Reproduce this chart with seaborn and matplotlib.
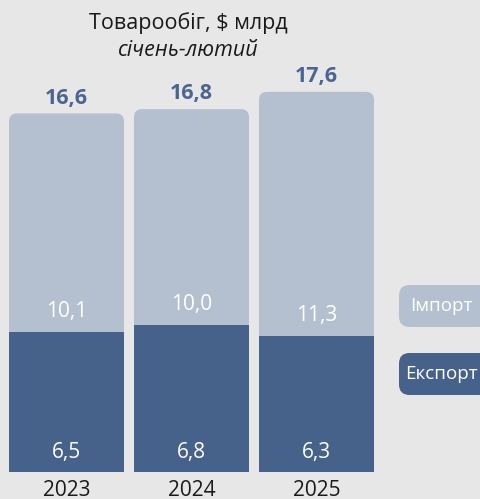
import matplotlib
matplotlib.use("Agg")
import matplotlib.pyplot as plt
from matplotlib.patches import FancyBboxPatch
import seaborn as sns
import pandas as pd

# Data (January-February, $ bn)
years = ["2023", "2024", "2025"]
export_vals = [6.5, 6.8, 6.3]
import_vals = [10.1, 10.0, 11.3]
total_vals = [16.6, 16.8, 17.6]

export_color = "#46618a"
import_color = "#b4bfcf"
total_color = "#4a6591"
bg_color = "#e7e7e7"

sns.set_theme(style="white")
plt.rcParams["font.family"] = ["Open Sans", "DejaVu Sans"]

df = pd.DataFrame({"year": years, "export": export_vals,
                   "import": import_vals, "total": total_vals})

fig = plt.figure(figsize=(4.8, 4.99), dpi=100, facecolor=bg_color)
ax = fig.add_axes([0, 27 / 499, 1, 432 / 499])
ax.set_facecolor("none")

sns.barplot(data=df, x="year", y="total", color=import_color, width=0.92,
            saturation=1, linewidth=0, ax=ax)
sns.barplot(data=df, x="year", y="export", color=export_color, width=0.92,
            saturation=1, linewidth=0, ax=ax)
ax.set_xlim(-0.532, -0.532 + 480 / 125)
ax.set_ylim(0, 20)

# round the top corners of the total (import) bars
n = len(years)
px_x = 125
px_y = 432 / 20
aspect = px_x / px_y
for p in list(ax.patches[:n]):
    x, w, h = p.get_x(), p.get_width(), p.get_height()
    r = 8 / px_x
    rb = FancyBboxPatch((x, 0), w, h, boxstyle=f"round,pad=0,rounding_size={r}",
                        mutation_aspect=aspect, facecolor=import_color,
                        edgecolor="none", zorder=p.get_zorder())
    p.set_visible(False)
    ax.add_patch(rb)
for p in ax.patches[n:2 * n]:
    p.set_zorder(3)

for i in range(n):
    ax.text(i, total_vals[i] + 0.22, f"{total_vals[i]:.1f}".replace(".", ","),
            ha="center", va="bottom", fontsize=15.5, fontweight="bold",
            color=total_color, zorder=5)
    ax.text(i, export_vals[i] + 0.45, f"{import_vals[i]:.1f}".replace(".", ","),
            ha="center", va="bottom", fontsize=15, color="white", zorder=5)
    ax.text(i, 0.88, f"{export_vals[i]:.1f}".replace(".", ","),
            ha="center", va="center", fontsize=15, color="white", zorder=5)

ax.set_xlabel("")
ax.set_ylabel("")
ax.set_yticks([])
ax.tick_params(axis="x", length=0, pad=6, labelsize=15, labelcolor="#1a1a1a")
sns.despine(ax=ax, left=True, bottom=True)

fig.text(188 / 480, 1 - 23 / 499, "Товарообіг, $ млрд", ha="center", va="center",
         fontsize=15.5, color="#1a1a1a")
fig.text(188 / 480, 1 - 51 / 499, "січень-лютий", ha="center", va="center",
         fontsize=15.5, style="italic", color="#1a1a1a")

# legend boxes
for label, col, y0, y1 in [("Імпорт", import_color, 285, 327),
                           ("Експорт", export_color, 353, 395)]:
    fig.patches.append(FancyBboxPatch(
        (399 / 480, 1 - y1 / 499), 90 / 480, (y1 - y0) / 499,
        boxstyle="round,pad=0,rounding_size=0.022", mutation_aspect=480 / 499,
        transform=fig.transFigure, facecolor=col, edgecolor="none"))
    fig.text(441 / 480, 1 - (y0 + y1) / 2 / 499, label, ha="center", va="center",
             fontsize=13.5, color="white")

fig.savefig("out.png", dpi=100, facecolor=bg_color)
